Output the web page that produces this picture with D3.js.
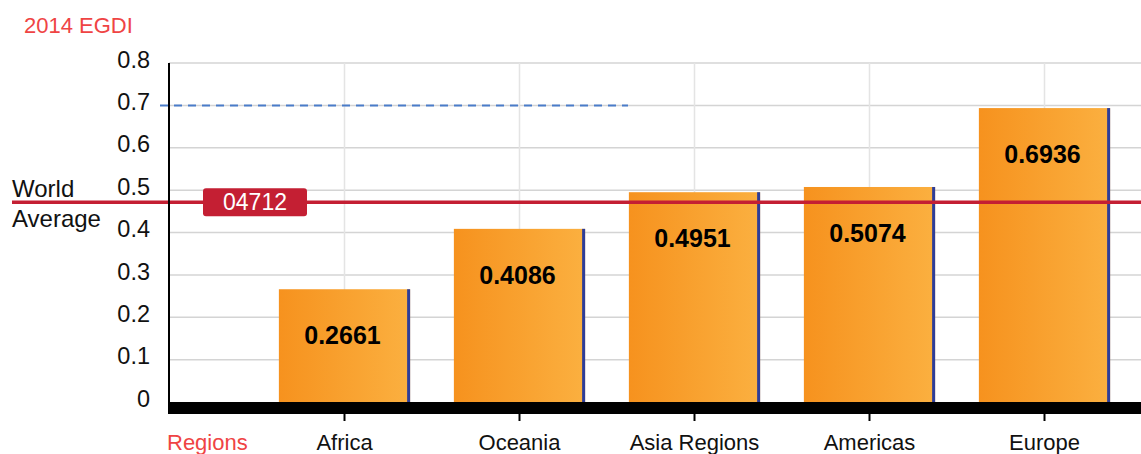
<!DOCTYPE html>
<html>
<head>
<meta charset="utf-8">
<script src="https://cdn.jsdelivr.net/npm/d3@7"></script>
<style>
  body { margin: 0; background: #fff; }
  svg text { font-family: "Liberation Sans", Arial, sans-serif; }
</style>
</head>
<body>
<svg id="chart" width="1141" height="454"></svg>
<script>
var regions = ["Africa", "Oceania", "Asia Regions", "Americas", "Europe"];
var egdi = [0.2661, 0.4086, 0.4951, 0.5074, 0.6936];
var yTicks = [0, 0.1, 0.2, 0.3, 0.4, 0.5, 0.6, 0.7, 0.8];
var worldAverage = 0.4712;
var worldLabel = "04712";
var dashedLevel = 0.7;

var svg = d3.select("svg#chart"),
    width = +svg.attr("width"),
    height = +svg.attr("height");

var plotLeft = 169, plotRight = 1141, plotTop = 63, plotBottom = 402;

var x = d3.scaleBand()
    .domain([""].concat(regions))
    .range([82, 1132])
    .paddingInner(0.25)
    .paddingOuter(0.125);

var y = d3.scaleLinear()
    .domain([0, 0.8])
    .range([plotBottom, plotTop]);

var defs = svg.append("defs");
var grad = defs.append("linearGradient")
    .attr("id", "barGrad")
    .attr("x1", "0%").attr("x2", "100%")
    .attr("y1", "0%").attr("y2", "0%");
grad.append("stop").attr("offset", "0%").attr("stop-color", "#f6921e");
grad.append("stop").attr("offset", "100%").attr("stop-color", "#fbb040");

// title
svg.append("text")
    .attr("x", 24)
    .attr("y", 33)
    .attr("fill", "#ef4444")
    .style("font-size", "22px")
    .text("2014 EGDI");

// horizontal grid
svg.append("g")
    .selectAll("line")
    .data(yTicks.filter(function(d) { return d > 0; }))
    .enter().append("line")
    .attr("x1", plotLeft).attr("x2", plotRight)
    .attr("y1", function(d) { return y(d); })
    .attr("y2", function(d) { return y(d); })
    .attr("stroke", "#d4d4d4")
    .attr("stroke-width", 1.5);

// vertical grid at category centers
svg.append("g")
    .selectAll("line")
    .data(regions)
    .enter().append("line")
    .attr("x1", function(d) { return x(d) + x.bandwidth() / 2; })
    .attr("x2", function(d) { return x(d) + x.bandwidth() / 2; })
    .attr("y1", plotTop).attr("y2", plotBottom)
    .attr("stroke", "#e4e4e4")
    .attr("stroke-width", 1.5);

// y tick labels
svg.append("g")
    .selectAll("text")
    .data(yTicks)
    .enter().append("text")
    .attr("x", 150)
    .attr("y", function(d) { return y(d); })
    .attr("dy", "0.2em")
    .attr("text-anchor", "end")
    .style("font-size", "23.5px")
    .attr("fill", "#111")
    .text(function(d) { return d === 0 ? "0" : d3.format(".1f")(d); });

// dashed reference line
svg.append("line")
    .attr("x1", 160).attr("x2", 628)
    .attr("y1", y(dashedLevel)).attr("y2", y(dashedLevel))
    .attr("stroke", "#4a7cc9")
    .attr("stroke-width", 2)
    .attr("stroke-dasharray", "8,6");

// bars
var bars = svg.append("g")
    .selectAll("g")
    .data(regions)
    .enter().append("g");

bars.append("rect")
    .attr("x", function(d) { return x(d); })
    .attr("y", function(d, i) { return y(egdi[i]); })
    .attr("width", x.bandwidth())
    .attr("height", function(d, i) { return plotBottom - y(egdi[i]); })
    .attr("fill", "url(#barGrad)");

bars.append("rect")
    .attr("x", function(d) { return x(d) + x.bandwidth() - 3; })
    .attr("y", function(d, i) { return y(egdi[i]); })
    .attr("width", 3)
    .attr("height", function(d, i) { return plotBottom - y(egdi[i]); })
    .attr("fill", "#2e3d98");

bars.append("text")
    .attr("x", function(d) { return x(d) + x.bandwidth() / 2 - 2; })
    .attr("y", function(d, i) { return y(egdi[i]) + 55; })
    .attr("text-anchor", "middle")
    .style("font-size", "25px")
    .style("font-weight", "bold")
    .attr("fill", "#000")
    .text(function(d, i) { return d3.format(".4f")(egdi[i]); });

// world average line
var wy = y(worldAverage);
svg.append("line")
    .attr("x1", 12).attr("x2", plotRight)
    .attr("y1", wy).attr("y2", wy)
    .attr("stroke", "#c41f33")
    .attr("stroke-width", 3.5);

svg.append("rect")
    .attr("x", 203).attr("y", wy - 14)
    .attr("width", 104).attr("height", 28)
    .attr("rx", 3)
    .attr("fill", "#c41f33");

svg.append("text")
    .attr("x", 255).attr("y", wy + 8)
    .attr("text-anchor", "middle")
    .attr("fill", "#fff")
    .style("font-size", "23px")
    .text(worldLabel);

svg.append("text")
    .attr("x", 12).attr("y", wy - 5)
    .style("font-size", "24px")
    .attr("fill", "#111")
    .text("World");
svg.append("text")
    .attr("x", 12).attr("y", wy + 25)
    .style("font-size", "24px")
    .attr("fill", "#111")
    .text("Average");

// axes
svg.append("line")
    .attr("x1", plotLeft).attr("x2", plotLeft)
    .attr("y1", plotTop).attr("y2", plotBottom + 12)
    .attr("stroke", "#000")
    .attr("stroke-width", 2);

svg.append("rect")
    .attr("x", plotLeft).attr("y", plotBottom)
    .attr("width", plotRight - plotLeft).attr("height", 12)
    .attr("fill", "#000");

svg.append("g")
    .selectAll("line")
    .data(regions)
    .enter().append("line")
    .attr("x1", function(d) { return x(d) + x.bandwidth() / 2; })
    .attr("x2", function(d) { return x(d) + x.bandwidth() / 2; })
    .attr("y1", plotBottom + 12).attr("y2", plotBottom + 19)
    .attr("stroke", "#000")
    .attr("stroke-width", 2);

svg.append("g")
    .selectAll("text")
    .data(regions)
    .enter().append("text")
    .attr("x", function(d) { return x(d) + x.bandwidth() / 2; })
    .attr("y", 450)
    .attr("text-anchor", "middle")
    .style("font-size", "22px")
    .attr("fill", "#111")
    .text(function(d) { return d; });

svg.append("text")
    .attr("x", 167).attr("y", 450)
    .style("font-size", "22px")
    .attr("fill", "#ef4444")
    .text("Regions");
</script>
</body>
</html>
